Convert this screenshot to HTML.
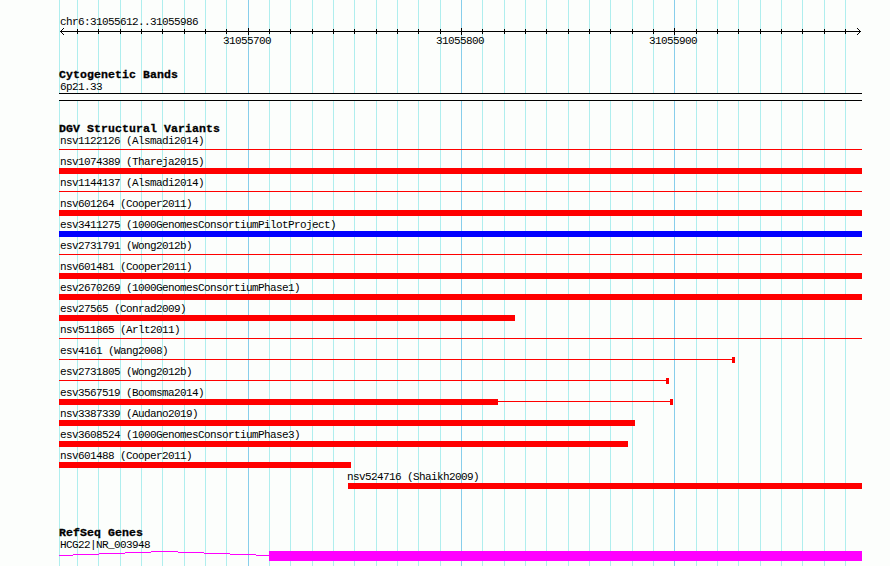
<!DOCTYPE html>
<html><head><meta charset="utf-8"><title>DGV genome browser</title>
<style>
html,body{margin:0;padding:0}
body{width:890px;height:566px;overflow:hidden;background:#fcfefc;position:relative}
svg{position:absolute;left:0;top:0;display:block}
.t{position:absolute;font-family:"Liberation Mono",monospace;white-space:pre;color:#000;line-height:13px;margin:0}
.s{font-size:11px;letter-spacing:-0.6px}
.b{font-size:11.5px;letter-spacing:0.1px;font-weight:bold;-webkit-text-stroke:0.3px #000}
</style></head><body>
<svg width="890" height="566" viewBox="0 0 890 566" shape-rendering="crispEdges">
<rect x="59" y="0" width="1" height="566" fill="#afeeee"/>
<rect x="77" y="0" width="1" height="566" fill="#afeeee"/>
<rect x="98" y="0" width="1" height="566" fill="#afeeee"/>
<rect x="120" y="0" width="1" height="566" fill="#afeeee"/>
<rect x="141" y="0" width="1" height="566" fill="#afeeee"/>
<rect x="162" y="0" width="1" height="566" fill="#afeeee"/>
<rect x="184" y="0" width="1" height="566" fill="#afeeee"/>
<rect x="205" y="0" width="1" height="566" fill="#afeeee"/>
<rect x="226" y="0" width="1" height="566" fill="#afeeee"/>
<rect x="248" y="0" width="1" height="566" fill="#87ceeb"/>
<rect x="269" y="0" width="1" height="566" fill="#afeeee"/>
<rect x="290" y="0" width="1" height="566" fill="#afeeee"/>
<rect x="312" y="0" width="1" height="566" fill="#afeeee"/>
<rect x="333" y="0" width="1" height="566" fill="#afeeee"/>
<rect x="354" y="0" width="1" height="566" fill="#afeeee"/>
<rect x="376" y="0" width="1" height="566" fill="#afeeee"/>
<rect x="397" y="0" width="1" height="566" fill="#afeeee"/>
<rect x="418" y="0" width="1" height="566" fill="#afeeee"/>
<rect x="440" y="0" width="1" height="566" fill="#afeeee"/>
<rect x="461" y="0" width="1" height="566" fill="#87ceeb"/>
<rect x="482" y="0" width="1" height="566" fill="#afeeee"/>
<rect x="504" y="0" width="1" height="566" fill="#afeeee"/>
<rect x="525" y="0" width="1" height="566" fill="#afeeee"/>
<rect x="546" y="0" width="1" height="566" fill="#afeeee"/>
<rect x="568" y="0" width="1" height="566" fill="#afeeee"/>
<rect x="589" y="0" width="1" height="566" fill="#afeeee"/>
<rect x="610" y="0" width="1" height="566" fill="#afeeee"/>
<rect x="632" y="0" width="1" height="566" fill="#afeeee"/>
<rect x="653" y="0" width="1" height="566" fill="#afeeee"/>
<rect x="674" y="0" width="1" height="566" fill="#87ceeb"/>
<rect x="696" y="0" width="1" height="566" fill="#afeeee"/>
<rect x="717" y="0" width="1" height="566" fill="#afeeee"/>
<rect x="738" y="0" width="1" height="566" fill="#afeeee"/>
<rect x="760" y="0" width="1" height="566" fill="#afeeee"/>
<rect x="781" y="0" width="1" height="566" fill="#afeeee"/>
<rect x="802" y="0" width="1" height="566" fill="#afeeee"/>
<rect x="824" y="0" width="1" height="566" fill="#afeeee"/>
<rect x="845" y="0" width="1" height="566" fill="#afeeee"/>
<rect x="60" y="31" width="801" height="1" fill="#000"/>
<rect x="61" y="30" width="1" height="1" fill="#000"/>
<rect x="61" y="32" width="1" height="1" fill="#000"/>
<rect x="859" y="30" width="1" height="1" fill="#000"/>
<rect x="859" y="32" width="1" height="1" fill="#000"/>
<rect x="62" y="29" width="1" height="1" fill="#000"/>
<rect x="62" y="33" width="1" height="1" fill="#000"/>
<rect x="858" y="29" width="1" height="1" fill="#000"/>
<rect x="858" y="33" width="1" height="1" fill="#000"/>
<rect x="63" y="28" width="1" height="1" fill="#000"/>
<rect x="63" y="34" width="1" height="1" fill="#000"/>
<rect x="857" y="28" width="1" height="1" fill="#000"/>
<rect x="857" y="34" width="1" height="1" fill="#000"/>
<rect x="77" y="29" width="1" height="5" fill="#000"/>
<rect x="98" y="29" width="1" height="5" fill="#000"/>
<rect x="120" y="29" width="1" height="5" fill="#000"/>
<rect x="141" y="29" width="1" height="5" fill="#000"/>
<rect x="162" y="29" width="1" height="5" fill="#000"/>
<rect x="184" y="29" width="1" height="5" fill="#000"/>
<rect x="205" y="29" width="1" height="5" fill="#000"/>
<rect x="226" y="29" width="1" height="5" fill="#000"/>
<rect x="248" y="28" width="1" height="7" fill="#000"/>
<rect x="269" y="29" width="1" height="5" fill="#000"/>
<rect x="290" y="29" width="1" height="5" fill="#000"/>
<rect x="312" y="29" width="1" height="5" fill="#000"/>
<rect x="333" y="29" width="1" height="5" fill="#000"/>
<rect x="354" y="29" width="1" height="5" fill="#000"/>
<rect x="376" y="29" width="1" height="5" fill="#000"/>
<rect x="397" y="29" width="1" height="5" fill="#000"/>
<rect x="418" y="29" width="1" height="5" fill="#000"/>
<rect x="440" y="29" width="1" height="5" fill="#000"/>
<rect x="461" y="28" width="1" height="7" fill="#000"/>
<rect x="482" y="29" width="1" height="5" fill="#000"/>
<rect x="504" y="29" width="1" height="5" fill="#000"/>
<rect x="525" y="29" width="1" height="5" fill="#000"/>
<rect x="546" y="29" width="1" height="5" fill="#000"/>
<rect x="568" y="29" width="1" height="5" fill="#000"/>
<rect x="589" y="29" width="1" height="5" fill="#000"/>
<rect x="610" y="29" width="1" height="5" fill="#000"/>
<rect x="632" y="29" width="1" height="5" fill="#000"/>
<rect x="653" y="29" width="1" height="5" fill="#000"/>
<rect x="674" y="28" width="1" height="7" fill="#000"/>
<rect x="696" y="29" width="1" height="5" fill="#000"/>
<rect x="717" y="29" width="1" height="5" fill="#000"/>
<rect x="738" y="29" width="1" height="5" fill="#000"/>
<rect x="760" y="29" width="1" height="5" fill="#000"/>
<rect x="781" y="29" width="1" height="5" fill="#000"/>
<rect x="802" y="29" width="1" height="5" fill="#000"/>
<rect x="824" y="29" width="1" height="5" fill="#000"/>
<rect x="845" y="29" width="1" height="5" fill="#000"/>
<rect x="59" y="93" width="803" height="8" fill="#000"/>
<rect x="59" y="94" width="803" height="6" fill="#fcfefc"/>
<rect x="59" y="149" width="803" height="1" fill="#ff0000"/>
<rect x="59" y="168" width="803" height="6" fill="#ff0000"/>
<rect x="59" y="191" width="803" height="1" fill="#ff0000"/>
<rect x="59" y="210" width="803" height="6" fill="#ff0000"/>
<rect x="59" y="231" width="803" height="6" fill="#0000ff"/>
<rect x="59" y="254" width="803" height="1" fill="#ff0000"/>
<rect x="59" y="273" width="803" height="6" fill="#ff0000"/>
<rect x="59" y="294" width="803" height="6" fill="#ff0000"/>
<rect x="59" y="315" width="456" height="6" fill="#ff0000"/>
<rect x="59" y="338" width="803" height="1" fill="#ff0000"/>
<rect x="59" y="359" width="673" height="1" fill="#ff0000"/>
<rect x="732" y="357" width="3" height="6" fill="#ff0000"/>
<rect x="59" y="380" width="607" height="1" fill="#ff0000"/>
<rect x="666" y="378" width="3" height="6" fill="#ff0000"/>
<rect x="59" y="399" width="439" height="6" fill="#ff0000"/>
<rect x="498" y="401" width="172" height="1" fill="#ff0000"/>
<rect x="670" y="399" width="3" height="6" fill="#ff0000"/>
<rect x="59" y="420" width="576" height="6" fill="#ff0000"/>
<rect x="59" y="441" width="569" height="6" fill="#ff0000"/>
<rect x="59" y="462" width="292" height="6" fill="#ff0000"/>
<rect x="348" y="483" width="514" height="6" fill="#ff0000"/>
<rect x="59" y="555" width="14" height="1" fill="#ff00ff"/>
<rect x="73" y="554" width="26" height="1" fill="#ff00ff"/>
<rect x="99" y="553" width="26" height="1" fill="#ff00ff"/>
<rect x="125" y="552" width="26" height="1" fill="#ff00ff"/>
<rect x="151" y="551" width="14" height="1" fill="#ff00ff"/>
<rect x="164" y="551" width="14" height="1" fill="#ff00ff"/>
<rect x="178" y="552" width="26" height="1" fill="#ff00ff"/>
<rect x="204" y="553" width="26" height="1" fill="#ff00ff"/>
<rect x="230" y="554" width="26" height="1" fill="#ff00ff"/>
<rect x="256" y="555" width="14" height="1" fill="#ff00ff"/>
<rect x="269" y="551" width="593" height="10" fill="#ff00ff"/>
</svg>
<div class="t s" style="left:60px;top:16px">chr6:31055612..31055986</div>
<div class="t s" style="left:223px;top:35px">31055700</div>
<div class="t s" style="left:436px;top:35px">31055800</div>
<div class="t s" style="left:649px;top:35px">31055900</div>
<div class="t b" style="left:59px;top:68px">Cytogenetic Bands</div>
<div class="t s" style="left:60px;top:81px">6p21.33</div>
<div class="t b" style="left:59px;top:122px">DGV Structural Variants</div>
<div class="t s" style="left:60px;top:135px">nsv1122126 (Alsmadi2014)</div>
<div class="t s" style="left:60px;top:156px">nsv1074389 (Thareja2015)</div>
<div class="t s" style="left:60px;top:177px">nsv1144137 (Alsmadi2014)</div>
<div class="t s" style="left:60px;top:198px">nsv601264 (Cooper2011)</div>
<div class="t s" style="left:60px;top:219px">esv3411275 (1000GenomesConsortiumPilotProject)</div>
<div class="t s" style="left:60px;top:240px">esv2731791 (Wong2012b)</div>
<div class="t s" style="left:60px;top:261px">nsv601481 (Cooper2011)</div>
<div class="t s" style="left:60px;top:282px">esv2670269 (1000GenomesConsortiumPhase1)</div>
<div class="t s" style="left:60px;top:303px">esv27565 (Conrad2009)</div>
<div class="t s" style="left:60px;top:324px">nsv511865 (Arlt2011)</div>
<div class="t s" style="left:60px;top:345px">esv4161 (Wang2008)</div>
<div class="t s" style="left:60px;top:366px">esv2731805 (Wong2012b)</div>
<div class="t s" style="left:60px;top:387px">esv3567519 (Boomsma2014)</div>
<div class="t s" style="left:60px;top:408px">nsv3387339 (Audano2019)</div>
<div class="t s" style="left:60px;top:429px">esv3608524 (1000GenomesConsortiumPhase3)</div>
<div class="t s" style="left:60px;top:450px">nsv601488 (Cooper2011)</div>
<div class="t s" style="left:347px;top:471px">nsv524716 (Shaikh2009)</div>
<div class="t b" style="left:59px;top:526px">RefSeq Genes</div>
<div class="t s" style="left:60px;top:539px">HCG22|NR_003948</div>
</body></html>
